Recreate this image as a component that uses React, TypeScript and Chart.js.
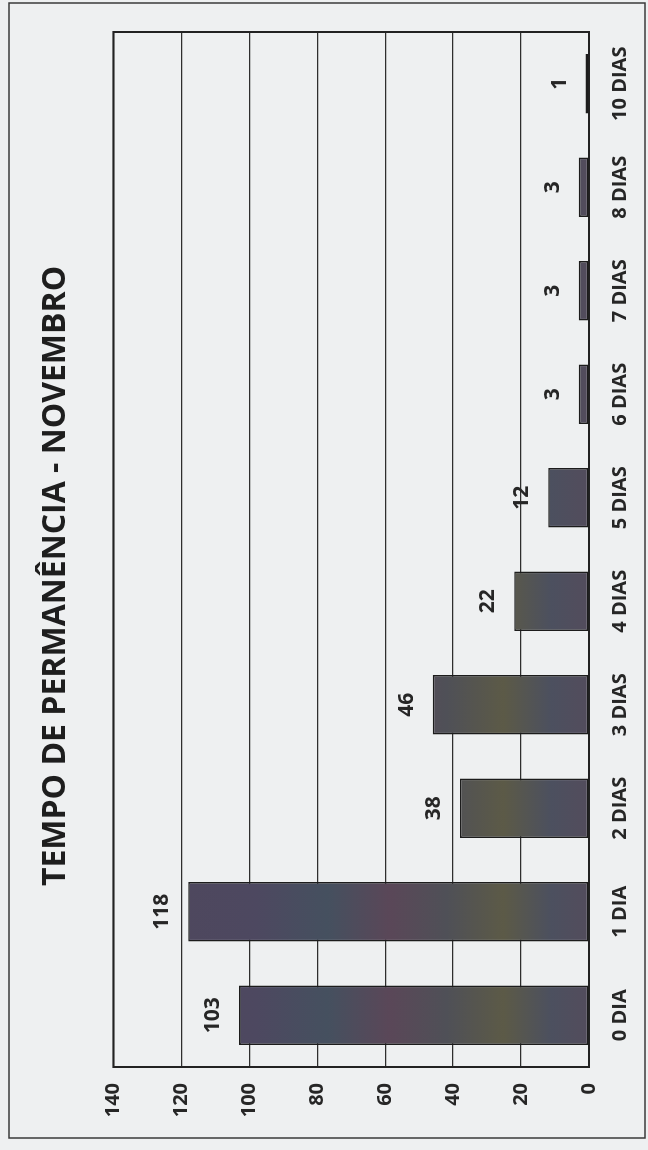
import React, { useEffect, useRef } from 'react';
import { Chart, registerables } from 'chart.js';

Chart.register(...registerables);

const titleText = 'TEMPO DE PERMANÊNCIA - NOVEMBRO';
const categories = ['0 DIA', '1 DIA', '2 DIAS', '3 DIAS', '4 DIAS', '5 DIAS', '6 DIAS', '7 DIAS', '8 DIAS', '10 DIAS'];
const values = [103, 118, 38, 46, 22, 12, 3, 3, 3, 1];
const valueTicks = [0, 20, 40, 60, 80, 100, 120, 140];

const W = 1150;
const H = 648;
const FONT = '"Open Sans", "DejaVu Sans", sans-serif';
const BG = '#eef0f1';
const INK = '#262626';

const framePlugin = {
  id: 'frame',
  beforeDraw(chart: any) {
    const { ctx } = chart;
    ctx.save();
    ctx.fillStyle = BG;
    ctx.fillRect(0, 0, W, H);
    ctx.strokeStyle = '#3a3a3a';
    ctx.lineWidth = 1.5;
    ctx.strokeRect(12, 9, 1135, 636);
    ctx.restore();
  },
  beforeDatasetsDraw(chart: any) {
    const { ctx, chartArea: a } = chart;
    ctx.save();
    ctx.strokeStyle = '#222';
    ctx.lineWidth = 2;
    ctx.strokeRect(a.left, a.top, a.right - a.left, a.bottom - a.top);
    ctx.restore();
  },
};

const dataLabelPlugin = {
  id: 'dataLabels',
  afterDatasetsDraw(chart: any) {
    const meta = chart.getDatasetMeta(0);
    const { ctx } = chart;
    ctx.save();
    ctx.font = `bold 21px ${FONT}`;
    ctx.fillStyle = INK;
    ctx.textAlign = 'center';
    ctx.textBaseline = 'alphabetic';
    meta.data.forEach((el: any, i: number) => {
      ctx.fillText(String(values[i]), el.x, el.y - 20);
    });
    ctx.restore();
  },
};

function barFill(context: any) {
  const chart = context.chart;
  const a = chart.chartArea;
  if (!a) return '#504e5c';
  const g = chart.ctx.createLinearGradient(0, a.top, 0, a.bottom);
  g.addColorStop(0, '#4f475c');
  g.addColorStop(0.3, '#4d4860');
  g.addColorStop(0.45, '#45505f');
  g.addColorStop(0.58, '#5a4758');
  g.addColorStop(0.7, '#4f5057');
  g.addColorStop(0.82, '#5c5a47');
  g.addColorStop(0.92, '#4c505f');
  g.addColorStop(1, '#534c5c');
  return g;
}

export default function App() {
  const ref = useRef<HTMLCanvasElement | null>(null);

  useEffect(() => {
    if (!ref.current) return;
    const chart = new Chart(ref.current, {
      type: 'bar',
      data: {
        labels: categories,
        datasets: [
          {
            data: values,
            backgroundColor: barFill,
            borderColor: '#1c1c1c',
            borderWidth: 1.6,
            borderSkipped: false,
            barPercentage: 0.575,
            categoryPercentage: 1,
          },
        ],
      },
      options: {
        responsive: false,
        animation: false,
        layout: { padding: { left: 30, right: 32, top: 0, bottom: 0 } },
        plugins: {
          legend: { display: false },
          tooltip: { enabled: false },
          title: {
            display: true,
            text: titleText,
            color: '#1e1e1e',
            font: { family: FONT, size: 32, weight: 'bold', lineHeight: 1.2 },
            padding: { top: 37, bottom: 38 },
          },
        },
        scales: {
          x: {
            grid: { display: false, drawTicks: false },
            border: { display: false },
            ticks: {
              color: INK,
              padding: 19,
              maxRotation: 0,
              autoSkip: false,
              font: { family: FONT, size: 20, weight: 'bold', lineHeight: 1.2 },
            },
            afterFit(scale: any) {
              scale.height = 59;
            },
          },
          y: {
            min: 0,
            max: 140,
            grid: { color: '#2e2e2e', lineWidth: 1.3, drawTicks: false },
            border: { display: false },
            ticks: {
              color: INK,
              padding: 16,
              font: { family: FONT, size: 20, weight: 'bold', lineHeight: 1.2 },
            },
            afterBuildTicks(scale: any) {
              scale.ticks = valueTicks.map((v) => ({ value: v }));
            },
            afterFit(scale: any) {
              scale.width = 53;
            },
          },
        },
      },
      plugins: [framePlugin, dataLabelPlugin],
    });
    if ((document as any).fonts && (document as any).fonts.ready) {
      (document as any).fonts.ready.then(() => {
        try { chart.update(); } catch (e) { /* ignore */ }
      });
    }
    return () => chart.destroy();
  }, []);

  return (
    <div
      style={{
        position: 'absolute',
        left: 0,
        top: 0,
        width: 648,
        height: 1150,
        overflow: 'hidden',
        background: BG,
      }}
    >
      <div
        style={{
          position: 'absolute',
          left: 0,
          top: 0,
          width: W,
          height: H,
          transformOrigin: '0 0',
          transform: `translate(0px, ${W}px) rotate(-90deg)`,
        }}
      >
        <canvas ref={ref} width={W} height={H} style={{ width: W, height: H, display: 'block' }} />
      </div>
    </div>
  );
}
